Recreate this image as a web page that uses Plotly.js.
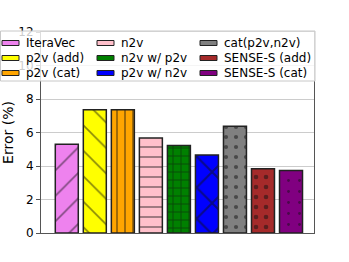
<!DOCTYPE html>
<html><head><meta charset="utf-8">
<script src="https://cdn.plot.ly/plotly-3.0.1.min.js"></script>
<style>html,body{margin:0;padding:0;background:#fff}</style>
</head><body><div id="chart" style="width:349px;height:262px"></div>
<script>
const methods = ["IteraVec","p2v (add)","p2v (cat)","n2v","n2v w/ p2v","p2v w/ n2v","cat(p2v,n2v)","SENSE-S (add)","SENSE-S (cat)"];
const errors = [5.3, 7.36, 7.36, 5.67, 5.22, 4.66, 6.37, 3.83, 3.73];
const colors = ["violet","yellow","orange","pink","green","blue","grey","brown","purple"];
const patterns = ["/","\\","|","-","+","x",".",".","."];
const patSizes = [18,18,8,10,8,22,10,10,11];
const patSolid = [0.09,0.09,0.2,0.16,0.22,0.18,0.14,0.17,0.05];

// plot area in pixels (for placing the legend box)
const W=349,H=262,L=41,R=35,T=32,B=29;
const pw=W-L-R, ph=H-T-B;
const px=x=>(x-L)/pw, py=y=>(H-B-y)/ph;

const traces = methods.map((m,i)=>({
  type:"bar", name:m, x:[i], y:[errors[i]], width:0.82, showlegend:false,
  marker:{color:colors[i], line:{color:"#222", width:1.5},
    pattern:{shape:patterns[i], fgcolor:"#111", bgcolor:colors[i], fillmode:"overlay",
      size:patSizes[i], solidity:patSolid[i]}}
}));

const shapes=[{type:"rect", xref:"paper", yref:"paper", x0:px(0.5), x1:px(315), y0:py(31), y1:py(81),
  fillcolor:"rgba(255,255,255,0.8)", line:{color:"#c8c8c8", width:1}, layer:"above"}];
const annotations=[];
const colX=[2,97,200], rowY=[43,58,73];
methods.forEach((m,i)=>{
  const c=Math.floor(i/3), r=i%3;
  const x0=colX[c], yc=rowY[r];
  shapes.push({type:"rect", xref:"paper", yref:"paper", x0:px(x0), x1:px(x0+17), y0:py(yc+2.5), y1:py(yc-2.5),
    fillcolor:colors[i], line:{color:"#222", width:1}, layer:"above"});
  annotations.push({xref:"paper", yref:"paper", x:px(x0+22), y:py(yc), xanchor:"left", yanchor:"middle",
    text:m, showarrow:false, font:{size:12, color:"#000"}});
});

const layout = {
  width:W, height:H, margin:{l:L,r:R,t:T,b:B, autoexpand:false},
  paper_bgcolor:"#fff", plot_bgcolor:"#fff",
  showlegend:false, barmode:"overlay",
  font:{family:"DejaVu Sans", color:"#000", size:12},
  xaxis:{range:[-0.92,8.82], showticklabels:false, ticks:"", showgrid:false, zeroline:false,
    showline:true, linecolor:"#555", linewidth:1, mirror:true},
  yaxis:{range:[0,12], tickvals:[0,2,4,6,8,10,12], ticks:"outside", ticklen:4, tickcolor:"#555",
    showgrid:true, gridcolor:"#cccccc", zeroline:false, showline:true, linecolor:"#555", mirror:true,
    automargin:true,
    title:{text:"Error (%)", font:{size:14}, standoff:2}, tickfont:{size:12}},
  shapes, annotations
};
Plotly.newPlot("chart", traces, layout, {staticPlot:true});
</script></body></html>
